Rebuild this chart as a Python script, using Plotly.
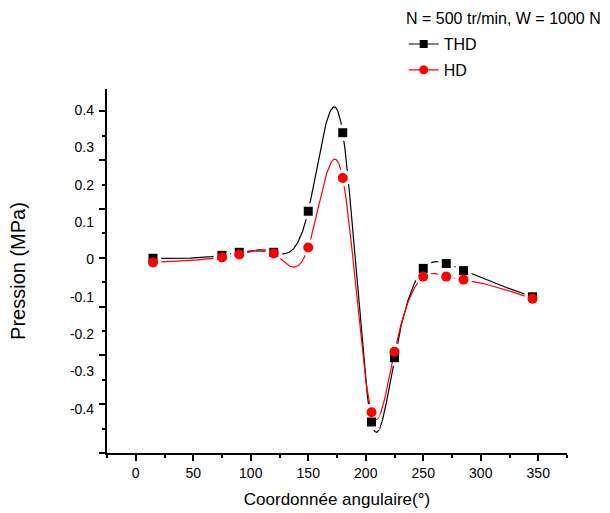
import plotly.graph_objects as go
import numpy as np

# Data
angle = [15, 75, 90, 120, 150, 180, 205, 225, 250, 270, 285, 345]
thd = [0.003, 0.011, 0.019, 0.019, 0.129, 0.339, -0.435, -0.263, -0.024, -0.011, -0.030, -0.100]
hd = [-0.008, 0.005, 0.013, 0.016, 0.032, 0.218, -0.409, -0.247, -0.046, -0.046, -0.054, -0.105]

y_tick_vals = [0.4, 0.3, 0.2, 0.1, 0, -0.1, -0.2, -0.3, -0.4]
y_tick_text = ["0.4", "0.3", "0.2", "0.1", "0", "-0.1", "-0.2", "-0.3", "-0.4"]
x_tick_vals = [0, 50, 100, 150, 200, 250, 300, 350]

legend_title = "N = 500 tr/min, W = 1000 N"
x_title = "Coordonnée angulaire(°)"
y_title = "Pression (MPa)"

FONT = "Liberation Sans, Arial, sans-serif"
Y_RANGE = [-0.518, 0.456]
X_RANGE = [-25, 375]


def spline_curve(xp, yp, num=700):
    """Natural cubic spline through the data points (Origin 'Spline' connect)."""
    x = np.asarray(xp, float)
    y = np.asarray(yp, float)
    n = len(x)
    h = np.diff(x)
    A = np.zeros((n, n))
    r = np.zeros(n)
    A[0, 0] = A[-1, -1] = 1.0
    for i in range(1, n - 1):
        A[i, i - 1] = h[i - 1]
        A[i, i] = 2 * (h[i - 1] + h[i])
        A[i, i + 1] = h[i]
        r[i] = 3 * ((y[i + 1] - y[i]) / h[i] - (y[i] - y[i - 1]) / h[i - 1])
    c = np.linalg.solve(A, r)
    b = (y[1:] - y[:-1]) / h - h * (2 * c[:-1] + c[1:]) / 3
    d = (c[1:] - c[:-1]) / (3 * h)
    xs = np.linspace(x[0], x[-1], num)
    idx = np.clip(np.searchsorted(x, xs, side="right") - 1, 0, n - 2)
    t = xs - x[idx]
    ys = y[idx] + b[idx] * t + c[idx] * t ** 2 + d[idx] * t ** 3
    return xs, ys


fig = go.Figure()

series = [
    ("THD", thd, "black", "square", 9),
    ("HD", hd, "red", "circle", 10),
]
for name, vals, color, sym, size in series:
    cx, cy = spline_curve(angle, vals)
    fig.add_trace(go.Scatter(x=cx, y=cy, mode="lines", line=dict(color=color, width=1.2),
                             showlegend=False, hoverinfo="skip"))
    fig.add_trace(go.Scatter(x=angle, y=vals, mode="markers",
                             marker=dict(symbol=sym, size=size + 7, color="white"),
                             showlegend=False, hoverinfo="skip"))
for name, vals, color, sym, size in series:
    fig.add_trace(go.Scatter(x=angle, y=vals, mode="markers", name=name,
                             marker=dict(symbol=sym, size=size, color=color),
                             showlegend=False))
    fig.add_trace(go.Scatter(x=[None], y=[None], mode="lines+markers", name=name,
                             legendgroup=name,
                             line=dict(color=color, width=1.2),
                             marker=dict(symbol=sym, size=size - 1, color=color)))

# secondary y axis carries the axis line and tick marks
fig.add_trace(go.Scatter(x=[X_RANGE[0]], y=[Y_RANGE[0]], yaxis="y2", mode="markers",
                         marker=dict(opacity=0), showlegend=False, hoverinfo="skip"))

major = np.arange(7, -1, -1) * 0.1306 + Y_RANGE[0]
minor = major + 0.0653

fig.add_annotation(
    text=legend_title, xref="paper", yref="paper", x=0.646, y=1.195,
    xanchor="left", yanchor="middle", showarrow=False, font=dict(size=16),
)

fig.update_layout(
    width=610, height=513,
    margin=dict(l=107, r=43, t=89, b=60, autoexpand=False),
    paper_bgcolor="white", plot_bgcolor="white",
    font=dict(family=FONT, size=14, color="black"),
    showlegend=True,
    legend=dict(
        x=0.645, y=1.17, xanchor="left", yanchor="top",
        font=dict(size=16), bgcolor="rgba(0,0,0,0)", tracegroupgap=2,
    ),
    xaxis=dict(
        range=X_RANGE, showgrid=False, zeroline=False,
        showline=True, linecolor="black", linewidth=1.5,
        ticks="outside", ticklen=6, tickwidth=1.5, tickcolor="black",
        tickmode="array", tickvals=x_tick_vals,
        minor=dict(tickmode="linear", tick0=-25, dtick=50, ticklen=3, tickwidth=1.5, tickcolor="black", showgrid=False),
        tickfont=dict(size=14),
        title=dict(text=x_title, font=dict(size=17), standoff=14),
    ),
    yaxis=dict(
        range=Y_RANGE, showgrid=False, zeroline=False, showline=False,
        ticks="", tickmode="array", tickvals=y_tick_vals, ticktext=y_tick_text,
        ticklabelstandoff=12, tickfont=dict(size=14),
        title=dict(text=y_title, font=dict(size=20), standoff=38),
    ),
    yaxis2=dict(
        range=Y_RANGE, overlaying="y", side="left", anchor="x",
        showgrid=False, zeroline=False, showticklabels=False,
        showline=True, linecolor="black", linewidth=1.5,
        ticks="outside", ticklen=6, tickwidth=1.5, tickcolor="black",
        tickmode="array", tickvals=list(major),
        minor=dict(tickmode="array", tickvals=list(minor), ticklen=3, tickwidth=1.5, tickcolor="black", showgrid=False),
    ),
)

fig.write_html("out.html")
